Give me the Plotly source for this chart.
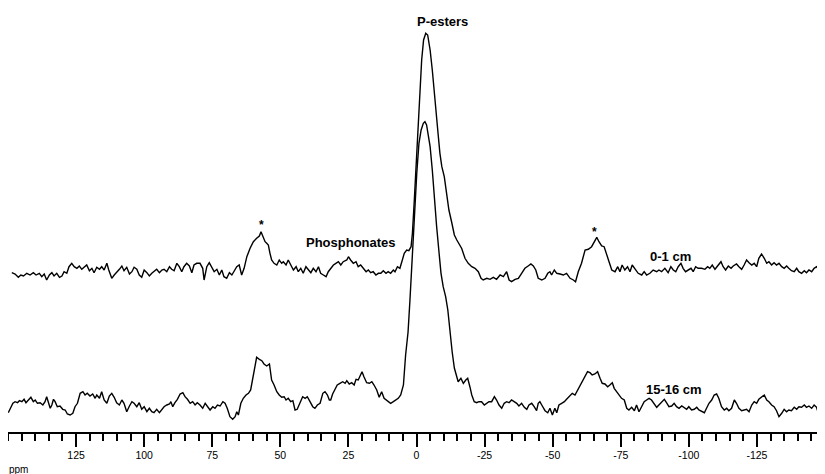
import plotly.graph_objects as go

# ---------------- data (ppm, intensity in arbitrary units) ----------------
ppm_0_1cm = [
    148.6,147.4,146.2,145.3,144.3,143.1,141.9,140.7,139.7,138.5,
    137.6,136.7,135.8,134.8,133.9,133.1,132.1,131.1,130.2,129.4,
    128.4,127.6,126.6,125.7,124.7,123.8,122.9,122.1,121.1,120.1,
    119.2,118.4,117.4,116.4,115.6,114.7,113.7,113.0,111.9,111.0,
    110.1,109.1,108.2,107.4,106.4,105.4,104.5,103.7,102.7,101.8,
    100.9,100.0,99.0,98.1,97.2,96.4,95.4,94.4,93.5,92.7,
    91.7,90.7,89.9,89.0,88.0,87.1,86.2,85.4,84.4,83.4,
    82.5,81.7,80.7,
    79.5,78.5,78.0,77.0,76.1,75.2,74.3,73.3,72.4,71.5,
    70.7,69.7,68.7,67.8,67.0,66.0,65.1,64.2,63.3,62.3,
    61.1,59.9,58.7,57.7,57.1,56.2,55.6,55.0,54.4,53.8,
    53.2,52.3,51.3,50.4,49.5,48.9,47.9,47.1,46.2,45.2,
    44.2,43.4,42.5,41.6,40.6,39.7,38.8,37.9,36.9,36.0,
    35.2,34.2,33.2,32.4,31.5,30.5,29.6,28.7,27.8,26.9,
    25.6,25.0,24.2,23.2,22.2,21.4,20.5,19.5,18.5,17.7,
    16.8,15.9,14.9,14.0,13.1,12.2,11.2,10.4,9.5,8.5,
    7.9,7.0,
    6.1,5.2,4.5,3.6,2.8,2.0,1.5,0.8,-0.1,-0.9,
    -1.9,-2.6,-3.4,-4.1,-5.0,-5.8,-6.8,-7.8,-8.6,-9.3,
    -10.2,-11.1,-11.9,-12.9,-13.9,-14.8,-15.6,-16.6,
    -17.8,-19.0,-20.3,-21.5,-22.7,-23.7,-24.5,-25.8,-27.0,-28.2,
    -29.4,-30.7,-31.9,-33.1,-34.0,-34.9,-36.2,-37.4,-38.6,-39.8,
    -41.0,-42.0,-42.9,-43.8,-44.7,-46.0,-47.2,-48.2,-49.0,-49.6,
    -50.6,-51.5,-52.7,-53.9,-55.1,-56.4,-57.6,-58.4,-59.4,-60.6,
    -61.9,-63.1,-64.3,-65.3,-66.2,-67.0,-68.0,-68.9,-69.8,-70.7,
    -71.7,-72.9,-73.9,-74.7,-75.5,-76.5,-77.5,-78.4,-79.2,-80.2,
    -81.4,-82.7,-83.6,-84.5,-85.7,-86.9,-88.2,-89.0,-90.0,-91.2,
    -92.4,-93.4,-94.3,-95.2,-96.1,-97.1,-97.9,-98.8,-99.8,-100.8,
    -101.6,-102.5,-103.4,-104.7,-105.9,-106.9,-107.7,-108.6,-109.6,-110.8,
    -111.8,-112.6,-113.5,-114.5,-115.5,-116.3,-117.5,-118.4,-119.4,-120.3,
    -121.2,-122.1,-123.1,-124.0,-124.9,-125.7,-126.7,-127.7,-128.6,-129.4,
    -130.4,-131.3,-132.2,-133.1,-134.1,-135.0,-135.9,-136.7,-137.7,-138.7,
    -139.6,-140.4,-141.4,-142.4,-143.2,-144.1,-145.1,-146.0,-146.9,-147.8,
    -148.8,-149.7,
]
int_0_1cm = [
    -0.7,-2,-5.3,-3,-4,-1.3,-3,-0.7,-3,-1.3,
    -4.7,-2,-8,-3,-0.7,-4,-1.3,-5.3,-4,0.3,
    -1.3,5.3,8.7,5.3,3.7,6,2.7,4.7,7,1.3,
    3.7,-0.7,4.7,2.7,5.3,2,8.7,2,-6.3,-3,
    -0.7,2.7,6,1.3,4.7,-2,0.3,4.7,2.7,-3,
    -5.3,2,-0.7,-4,-1.3,0.3,2.7,-0.7,2,2.7,
    0.3,5.3,2.7,1.3,8.7,5.3,0.3,5.3,8.7,6,
    -0.7,7,8.7,
    8.7,3.7,-8,5.3,9.3,5.3,0.3,2.7,-3,2,
    -4.7,-6.3,-0.7,-3,0.3,5.3,7,-3,3.7,15.3,
    23.7,30.3,33.7,36,40.3,35.3,30.3,28.7,27,18.7,
    12,8.7,7,12,8.7,10.3,7,12,7,2,
    5.3,0.3,3.7,-1.3,5.3,2,-0.7,3.7,0.3,5.3,
    -1.3,-3,-4.7,0.3,3.7,7,8.7,10.3,7,10.3,
    12,15.3,12,8.7,10.3,5.3,7,3.7,0.3,2,
    -0.7,0.3,-3,-1.3,-1.3,1.3,-1.3,0.3,-1.3,2,
    0.3,5.3,
    3.7,12,18.7,22,21.3,25.3,38.7,72,118.7,168.7,
    212,232,238.7,237,222,202,168.7,142,118.7,105.3,
    95.3,78.7,62,50,37,32,28.7,23.5,
    13.7,8.7,5.3,3.7,0.3,-6.3,-8,-6.3,-7.3,-5.3,
    -7.3,-3,-4.7,0.3,-8,-9.7,-7.3,-6.3,-1.3,3.7,
    6,8,6,2,-6.3,-8,-6.3,-1.3,0.3,-3,
    2,-1.3,-2,-3,-1.3,-6.3,-8,-9.7,0.3,8.7,
    22,22.7,25.3,30.3,34.7,30.3,26,25.3,18.7,10.3,
    2,0.3,5.3,0.3,7,2,5.3,0.3,7,3.7,
    -1.3,-3,0.3,-3,-1.3,2,0.3,2,0.3,3.7,
    -0.7,5.3,2,0.3,5.3,8.7,3.7,0.3,2,3.7,
    0.3,5.3,3.7,3.7,2.7,5.3,3.7,7,2.7,7,
    10.3,5.3,2,6,3.7,6,8,5.3,2.7,7,
    12,9.3,7,8.7,5.3,13.7,18,13.7,8.7,10.3,
    7,9.3,7,8.7,5.3,3.7,6,3.7,1.3,0.3,
    3.7,0.3,-1.3,1.3,-0.7,2,0.3,3.7,5.3,2,
    -0.7,-3,
]

ppm_15_16cm = [
    149.9,149.2,148.2,147.4,146.5,145.8,144.9,144.1,143.4,142.5,
    141.6,140.7,140.0,139.2,138.2,137.2,136.4,135.8,135.2,134.5,
    133.9,133.3,132.7,131.9,130.9,129.9,129.0,128.2,127.2,126.2,
    125.4,124.5,123.5,122.5,121.7,120.9,119.9,118.9,118.0,117.4,
    116.4,115.6,114.7,113.7,112.8,111.9,111.0,110.1,109.1,108.2,
    107.4,106.4,105.4,104.5,103.7,102.7,101.8,100.9,100.0,99.0,
    98.1,97.2,96.4,95.4,94.4,93.5,92.7,91.7,90.7,90.2,
    89.5,88.7,87.8,86.8,85.8,85.0,84.1,83.1,82.2,81.3,
    80.5,
    79.5,78.5,77.6,76.8,75.8,74.8,74.0,73.1,72.1,71.1,
    70.3,69.5,68.5,67.5,66.6,66.0,65.4,64.5,63.6,62.6,
    61.7,60.9,60.1,59.3,58.7,57.7,56.8,56.0,55.0,54.0,
    53.5,53.2,52.3,51.3,50.4,49.5,48.6,47.9,47.1,46.2,
    45.4,44.6,43.8,42.8,41.8,40.9,40.1,39.1,38.1,37.3,
    36.4,35.4,34.4,33.6,32.7,32.0,31.5,30.8,29.9,29.1,
    28.1,27.1,26.2,25.6,24.7,23.8,22.9,22.2,21.4,20.7,
    20.0,19.3,18.3,17.3,16.4,15.6,14.6,13.7,12.8,11.9,
    11.2,10.4,9.5,8.5,7.8,6.7,5.8,
    4.8,4.0,3.1,2.4,1.5,0.8,-0.1,-0.9,-1.7,-2.5,
    -3.1,-3.7,-4.3,-5.0,-5.8,-6.5,-7.4,-8.3,-9.0,-9.8,
    -10.7,-11.5,-12.3,-13.1,-13.9,-14.8,-15.3,
    -16.3,-17.2,-18.1,-18.8,-19.6,-20.3,-21.2,-22.1,-22.9,-23.9,
    -24.9,-25.8,-26.6,-27.6,-28.6,-29.4,-30.3,-31.3,-32.2,-33.1,
    -34.0,-34.9,-35.9,-36.8,-37.6,-38.6,-39.6,-40.5,-41.3,-42.3,
    -43.2,-44.1,-44.7,-45.3,-46.2,-47.2,-48.2,-49.0,-49.9,-50.8,
    -51.5,-52.3,-53.3,-54.3,-55.1,-56.4,-57.2,-58.2,-59.2,-60.0,
    -60.9,-61.9,-62.8,-63.7,-64.5,-65.5,-66.5,-67.4,-68.2,-69.2,
    -70.2,-71.0,-71.9,-72.6,-73.5,-74.3,-75.3,-76.3,-77.2,-78.0,
    -79.0,-80.0,-80.8,-81.7,-82.7,-83.6,-84.5,-85.4,-86.3,-87.3,
    -88.2,-89.0,-90.0,-91.0,-91.8,-92.7,-93.7,-94.6,-95.5,-96.4,
    -97.4,-98.3,-99.2,-100.0,-101.0,-102.0,-102.9,-103.7,-104.7,-105.7,
    -106.5,-107.4,-108.4,-109.3,-110.2,-111.0,-112.0,-113.0,-113.9,-114.7,
    -115.7,-116.7,-117.5,-118.4,-119.4,-120.3,-121.2,-122.1,-123.1,-124.0,
    -124.9,-125.7,-126.7,-127.7,-128.6,-129.4,-130.4,-131.3,-132.2,-133.1,
    -134.1,-135.0,-135.9,-136.7,-137.7,-138.7,-139.6,-140.4,-141.4,-142.4,
    -143.2,-144.1,-145.1,-146.0,-146.9,-147.5,-148.1,-148.8,-149.7,
]
int_15_16cm = [
    -7.7,-3.3,1.7,3.3,2.3,4.3,3.3,5.7,2.3,5,
    7.7,3.3,5,1.7,2.3,0,3.3,8.3,3.3,-3.3,
    0,5.7,3.3,-1.7,-1,-4.3,-5,-9,-10,-8.3,
    -1.7,1.7,11.7,13.3,10,11.7,9,11,6.7,10,
    6.7,13.3,5,1.7,9,11.7,7.7,2.3,0,5,
    1.7,-6.7,-1,3.3,1.7,-1.7,2.3,-4.3,-1.7,-6.7,
    -3.3,-6.7,-7.7,-4.3,-7.7,-5,-1.7,0,1,3.3,
    -1.7,2.3,5.7,11,12.3,8.3,5.7,1.7,3.3,0,
    2.3,
    0,-3.3,1.7,-1,-5,-1.7,-3.3,0,-1,3.3,
    1.7,-3.3,-11.7,-14.3,-11.7,-6.7,-10,1.7,6.7,10,
    11.7,15,28.3,41.7,47.7,45.7,44.3,41,39,41,
    33.3,25,20,13.3,10,7.7,8.3,5,6.7,3.3,
    4.3,-5,-4.3,1.7,8.3,6.7,8.3,3.3,-1.7,-3.3,
    0,1.7,11.7,13.3,10,5,5,11,15.7,20,
    21.7,23.3,21.7,24.3,21,22.3,20,25.7,25,29,
    33.3,28.3,22.3,21.7,23.3,20,15,7.7,13.3,6.7,
    5,3.3,1.7,3.3,5,6.7,10,
    20,50,73,105,151.7,191.7,231.7,261.7,275,281.7,
    283.3,280,271.7,258.3,235,208.3,178.3,151.7,131.7,118.3,
    108.3,95,72,53,37,28,23.3,
    26.7,21.7,25,26.7,18.3,10,3.3,2.3,3.3,3.3,
    0,1.7,3.3,3.3,8.3,5,0,-3.3,1.7,3.3,
    2.3,5,3.3,1.7,-1,1.7,-2.3,-4.3,0,1.7,
    -1.7,-5.7,1.7,3.3,-1,-5.7,-7.7,-3.3,-10,-3.3,
    -7.7,0,1.7,3.3,5.7,9,11.7,10,15,20,
    25,30,33.3,32.3,30,31,33.3,26.7,21.7,21,
    18.3,20,22.3,16.7,13.3,10,6.7,5,-3.3,-5,
    -2.3,-5.7,0,-6.7,-1.7,3.3,5,6.7,5,1.7,
    -2.3,0,3.3,5.7,2.3,-1.7,-1,1.7,-1.7,-3.3,
    -1,-2.3,-4.3,-1.7,-5,-4.3,-2.3,-5,-6.7,-7.7,
    -3.3,1.7,5,10,11,6.7,-1.7,-5,-3.3,-5.7,
    -3.3,5,1.7,-3.3,-5.7,-5,-4.3,-6.7,0,3.3,
    1.7,5.7,7.7,10,5,3.3,0,-1.7,-5.7,-11.7,
    -8.3,-4.3,-6.7,-5,-5.7,-2.3,-4.3,-1.7,-2.3,0,
    -2.3,-1,-3.3,0,-2.3,-7.7,-3.3,-1,-3.3,
]

assert len(ppm_0_1cm) == len(int_0_1cm), (len(ppm_0_1cm), len(int_0_1cm))
assert len(ppm_15_16cm) == len(int_15_16cm), (len(ppm_15_16cm), len(int_15_16cm))

tick_vals = [125, 100, 75, 50, 25, 0, -25, -50, -75, -100, -125]
tick_text = ["125", "100", "75", "50", "25", "0", "-25", "-50", "-75", "-100", "-125"]

# vertical stacking offsets for the two spectra (arbitrary units)
offset_0_1cm = 160
offset_15_16cm = 27

FONT = "Liberation Sans, Arial, Helvetica, sans-serif"

fig = go.Figure()
fig.add_trace(go.Scatter(
    x=ppm_15_16cm, y=[v + offset_15_16cm for v in int_15_16cm],
    mode="lines", line=dict(color="black", width=1.4), name="15-16 cm",
    hoverinfo="skip",
))
fig.add_trace(go.Scatter(
    x=ppm_0_1cm, y=[v + offset_0_1cm for v in int_0_1cm],
    mode="lines", line=dict(color="black", width=1.4), name="0-1 cm",
    hoverinfo="skip",
))

labels = [
    ("P-esters", -9.6, 411, 13, "bold"),
    ("Phosphonates", 24.2, 190, 13, "bold"),
    ("*", 57.1, 207, 12, "bold"),
    ("*", -65.5, 200, 12, "bold"),
    ("0-1 cm", -93.2, 176, 13, "bold"),
    ("15-16 cm", -94.6, 43, 13, "bold"),
]
for txt, xv, yv, sz, wt in labels:
    fig.add_annotation(x=xv, y=yv, xref="x", yref="y", text=txt, showarrow=False,
                       xanchor="center", yanchor="middle",
                       font=dict(family=FONT, size=sz, color="black", weight=wt))

# the page body adds an 8 px offset; the plot area spans page y 8..432
Y_TOP = 424
fig.add_annotation(x=0.0129, y=-38 / Y_TOP, xref="paper", yref="paper", text="ppm",
                   showarrow=False, xanchor="center", yanchor="middle",
                   font=dict(family=FONT, size=10, color="black"))

fig.update_layout(
    width=825, height=474, autosize=False,
    margin=dict(l=0, r=8, t=0, b=50),
    paper_bgcolor="white", plot_bgcolor="white",
    showlegend=False,
    xaxis=dict(
        range=[150, -150], showgrid=False, zeroline=False,
        showline=True, linecolor="black", linewidth=1.6,
        tickmode="array", tickvals=tick_vals, ticktext=tick_text,
        ticks="outside", ticklen=13, tickwidth=2, tickcolor="black",
        tickfont=dict(family=FONT, size=10.5, color="black"),
        minor=dict(tickmode="linear", tick0=0, dtick=5, ticks="outside",
                   ticklen=7, tickwidth=1.6, tickcolor="black", showgrid=False),
    ),
    yaxis=dict(range=[0, Y_TOP], visible=False, fixedrange=True),
)

fig.write_html("out.html")
